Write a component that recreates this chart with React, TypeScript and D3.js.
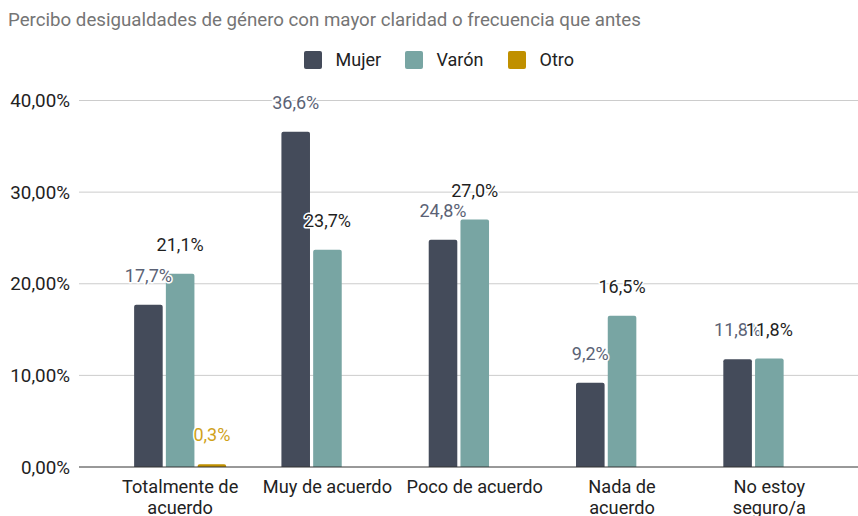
import React from "react";
import * as d3 from "d3";

const categories = ["Totalmente de acuerdo", "Muy de acuerdo", "Poco de acuerdo", "Nada de acuerdo", "No estoy seguro/a"];
const categoryLines = [["Totalmente de", "acuerdo"], ["Muy de acuerdo"], ["Poco de acuerdo"], ["Nada de", "acuerdo"], ["No estoy", "seguro/a"]];
const seriesNames = ["Mujer", "Varón", "Otro"];
const mujer = [17.7, 36.6, 24.8, 9.2, 11.76];
const varon = [21.1, 23.7, 27.0, 16.5, 11.84];
const otro = [0.3, 0, 0, 0, 0];
const yTicks = [0, 10, 20, 30, 40];
const title = "Percibo desigualdades de género con mayor claridad o frecuencia que antes";

const seriesValues = [mujer, varon, otro];
const barColors = ["#444b5a", "#78a5a3", "#c09000"];
const labelColors = ["#5b6275", "#1f1f1f", "#d0a21a"];

const W = 858;
const H = 516;
const FONT = "Roboto, 'Noto Sans', sans-serif";

function topRounded(x: number, y: number, w: number, h: number, r: number) {
  const rr = Math.min(r, h, w / 2);
  return `M${x},${y + h}V${y + rr}Q${x},${y} ${x + rr},${y}H${x + w - rr}Q${x + w},${y} ${x + w},${y + rr}V${y + h}Z`;
}

export default function App() {
  const x0 = d3.scaleBand<string>().domain(categories).range([106.5, 843]).paddingInner(0.375).paddingOuter(0.1875);
  const x1 = d3.scaleBand<string>().domain(seriesNames).range([0, x0.bandwidth()]).paddingInner(0.1).paddingOuter(0);
  const y = d3.scaleLinear().domain([0, 40]).range([467, 100.5]);
  const fmtTick = (v: number) => d3.format(".2f")(v).replace(".", ",") + "%";
  const fmtLabel = (v: number) => d3.format(".1f")(v).replace(".", ",") + "%";

  const gridLeft = 79;
  const gridRight = 858;

  const legendX = [304, 405, 508];

  return (
    <svg width={W} height={H} style={{ position: "absolute", left: 0, top: 0, background: "#fff" }} fontFamily={FONT}>
      <rect x={0} y={0} width={W} height={H} fill="#fff" />
      <text x={8} y={26} fontSize={18.7} fill="#757575">{title}</text>

      {seriesNames.map((s, i) => (
        <g key={s}>
          <rect x={legendX[i]} y={51} width={18} height={18} rx={2} fill={barColors[i]} />
          <text x={legendX[i] + 31.5} y={66} fontSize={18} fill="#222">{s}</text>
        </g>
      ))}

      {yTicks.map((t) => (
        <g key={t}>
          {t !== 0 && <line x1={gridLeft} x2={gridRight} y1={y(t)} y2={y(t)} stroke="#cccccc" strokeWidth={1} />}
          <text x={70} y={y(t) + 6.7} fontSize={18.8} textAnchor="end" fill="#222">{fmtTick(t)}</text>
        </g>
      ))}

      {categories.map((c, ci) => (
        <g key={c}>
          {seriesNames.map((s, si) => {
            const v = seriesValues[si][ci];
            if (v <= 0) return null;
            const bx = (x0(c) as number) + (x1(s) as number);
            return <path key={s} d={topRounded(bx, y(v), x1.bandwidth(), y(0) - y(v), 2)} fill={barColors[si]} />;
          })}
        </g>
      ))}

      <line x1={gridLeft} x2={gridRight} y1={y(0)} y2={y(0)} stroke="#333" strokeWidth={1} />

      {seriesNames.map((s, si) => (
        <g key={s}>
          {categories.map((c, ci) => {
            const v = seriesValues[si][ci];
            if (v <= 0) return null;
            const cx = (x0(c) as number) + (x1(s) as number) + x1.bandwidth() / 2;
            return (
              <text key={c} x={cx} y={y(v) - 23} fontSize={18} textAnchor="middle" fill={labelColors[si]} stroke="#fff" strokeWidth={3} strokeLinejoin="round" style={{ paintOrder: "stroke" }}>
                {fmtLabel(v)}
              </text>
            );
          })}
        </g>
      ))}

      {categories.map((c, ci) => {
        const cx = (x0(c) as number) + x0.bandwidth() / 2;
        return (
          <text key={c} x={cx} y={493} fontSize={18.2} textAnchor="middle" fill="#222">
            {categoryLines[ci].map((ln, li) => (
              <tspan key={li} x={cx} dy={li === 0 ? 0 : 21}>{ln}</tspan>
            ))}
          </text>
        );
      })}
    </svg>
  );
}
